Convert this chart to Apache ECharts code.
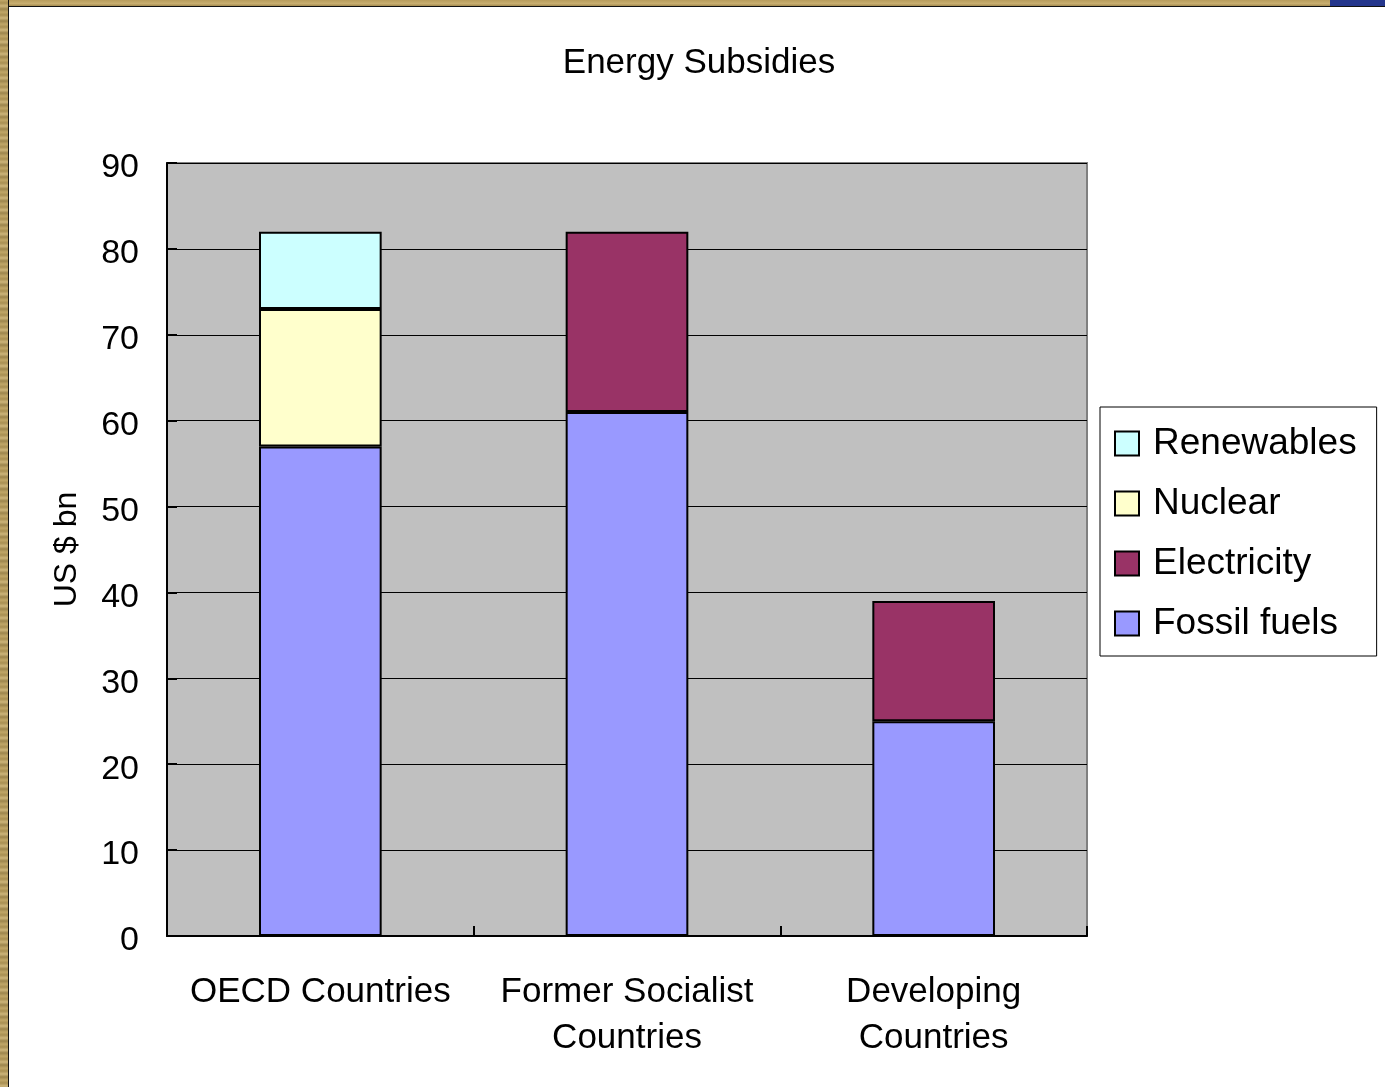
<!DOCTYPE html>
<html>
<head>
<meta charset="utf-8">
<script src="https://cdn.jsdelivr.net/npm/echarts@6/dist/echarts.min.js"></script>
<style>
  html, body { margin: 0; padding: 0; background: #ffffff; }
  #wrap { position: relative; width: 1385px; height: 1087px; overflow: hidden; }
  #chart { position: absolute; left: 0; top: 0; width: 1385px; height: 1087px; }
  #woodLeft { position: absolute; left: 0; top: 0; width: 8px; height: 1087px;
    background: repeating-linear-gradient(180deg, #c2a868 0px, #a88f52 3px, #cdb57a 6px, #9c854c 9px, #bfa566 12px);
    border-right: 1px solid #111; }
  #woodTop { position: absolute; left: 0; top: 0; width: 1385px; height: 6px;
    background: linear-gradient(180deg, #b79c5c, #c8ae70 60%, #a38a4f);
    border-bottom: 1px solid #111; }
  #blueCorner { position: absolute; left: 1330px; top: 0; width: 55px; height: 6px;
    background: #24368c; }
</style>
</head>
<body>
<div id="wrap">
  <div id="chart"></div>
  <div id="woodTop"></div>
  <div id="woodLeft"></div>
  <div id="blueCorner"></div>
</div>
<script>
const categories = ['OECD Countries', 'Former Socialist\nCountries', 'Developing\nCountries'];
const fossilFuels = [57, 61, 25];
const electricity = ['-', 21, 14];
const nuclear = [16, '-', '-'];
const renewables = [9, '-', '-'];
const yTicks = { min: 0, max: 90, interval: 10 };

const FONT = '"Liberation Sans", Arial, sans-serif';
const chart = echarts.init(document.getElementById('chart'), null, { renderer: 'canvas' });

function barSeries(name, data, color) {
  return {
    name: name,
    type: 'bar',
    stack: 'total',
    data: data,
    barWidth: '40%',
    itemStyle: { color: color, borderColor: '#000', borderWidth: 2 },
    emphasis: { disabled: true }
  };
}

chart.setOption({
  animation: false,
  backgroundColor: '#ffffff',
  title: {
    text: 'Energy Subsidies',
    left: 694,
    top: 41,
    textAlign: 'center',
    textStyle: { fontFamily: FONT, fontSize: 35, fontWeight: 'normal', color: '#000' }
  },
  grid: {
    left: 167, right: 298, top: 163, bottom: 151,
    show: true, backgroundColor: '#C0C0C0', borderColor: '#808080', borderWidth: 2
  },
  legend: {
    orient: 'vertical',
    left: 1100,
    top: 407,
    data: ['Renewables', 'Nuclear', 'Electricity', 'Fossil fuels'],
    icon: 'rect',
    itemWidth: 24,
    itemHeight: 24,
    itemGap: 23,
    padding: [18, 20, 14, 14],
    borderColor: '#000',
    borderWidth: 1,
    backgroundColor: '#fff',
    itemStyle: { borderColor: '#000', borderWidth: 2 },
    textStyle: { fontFamily: FONT, fontSize: 37, color: '#000', lineHeight: 34, padding: [0, 0, 0, 9] },
    selectedMode: false
  },
  xAxis: {
    type: 'category',
    data: categories,
    axisLine: { lineStyle: { color: '#000', width: 2 } },
    axisTick: { show: true, inside: true, length: 10, lineStyle: { color: '#000', width: 2 } },
    axisLabel: { fontFamily: FONT, fontSize: 35, color: '#000', lineHeight: 46, margin: 33, interval: 0 },
    splitLine: { show: false }
  },
  yAxis: {
    type: 'value',
    min: yTicks.min, max: yTicks.max, interval: yTicks.interval,
    name: 'US $ bn',
    nameLocation: 'middle',
    nameGap: 84,
    nameRotate: 90,
    nameTextStyle: { fontFamily: FONT, fontSize: 32, color: '#000' },
    axisLine: { show: true, lineStyle: { color: '#000', width: 2 } },
    axisTick: { show: true, inside: true, length: 10, lineStyle: { color: '#000', width: 2 } },
    axisLabel: { fontFamily: FONT, fontSize: 34, color: '#000', margin: 28, verticalAlign: 'top', lineHeight: 10 },
    splitLine: { show: true, lineStyle: { color: '#000', width: 1 } }
  },
  series: [
    barSeries('Fossil fuels', fossilFuels, '#9999FF'),
    barSeries('Electricity', electricity, '#993366'),
    barSeries('Nuclear', nuclear, '#FFFFCC'),
    barSeries('Renewables', renewables, '#CCFFFF')
  ]
});
</script>
</body>
</html>
